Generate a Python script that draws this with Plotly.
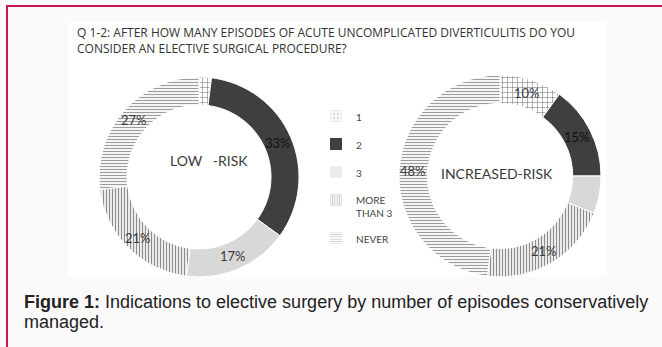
import math
import plotly.graph_objects as go

W, H = 662, 347

# Survey answers (share of respondents, %)
categories = ["1", "2", "3", "MORE THAN 3", "NEVER"]
legend_names = ["1", "2", "3", "MORE<br>THAN 3", "NEVER"]
low_risk = [2, 33, 17, 21, 27]
increased_risk = [10, 15, 6, 21, 48]

# Fill styles per answer
bg_colors = ["#ffffff", "#3f3f3f", "#ffffff", "#ffffff", "#ffffff"]
fg_colors = ["#7a7a7a", "#3f3f3f", "#a8a8a8", "#8c8c8c", "#9c9c9c"]
shapes_pat = ["+", "", ".", "|", "-"]
pat_size = [5, 4, 2, 3, 3]
pat_solid = [0.22, 0.3, 0.5, 0.45, 0.4]
text_colors = ["#3a3a3a", "#111111", "#3a3a3a", "#3a3a3a", "#3a3a3a"]

HOLE = 0.72
label_font = "Lato, Open Sans, sans-serif"


def px(x):
    return x / W


def py(y):
    return 1 - y / H


def pattern():
    return dict(shape=shapes_pat, fgcolor=fg_colors, bgcolor=bg_colors,
                size=pat_size, solidity=pat_solid)


def donut(values, cx, cy, r):
    return go.Pie(
        labels=categories,
        values=values,
        textinfo="none",
        hole=HOLE,
        sort=False,
        direction="clockwise",
        rotation=0,
        marker=dict(colors=bg_colors, pattern=pattern(),
                    line=dict(color="#ffffff", width=1)),
        domain=dict(x=[px(cx - r), px(cx + r)], y=[py(cy + r), py(cy - r)]),
        showlegend=False,
        hoverinfo="label+percent",
    )


def percent_labels(values, cx, cy, r):
    """Percent labels at the middle of each slice, on the ring."""
    total = sum(values)
    rr = r * (1 + HOLE) / 2
    out = []
    cum = 0
    for v, col in zip(values, text_colors):
        mid = (cum + v / 2) / total * 2 * math.pi
        cum += v
        if v < 10:
            continue
        out.append(dict(text=f"{v}%", x=px(cx + rr * math.sin(mid)),
                        y=py(cy - rr * math.cos(mid)),
                        xanchor="center", yanchor="middle",
                        font=dict(family=label_font, size=13, color=col)))
    return out


LEFT = (199, 177, 100)
RIGHT = (500, 176, 101)

fig = go.Figure()
fig.add_trace(donut(low_risk, *LEFT))
fig.add_trace(donut(increased_risk, *RIGHT))

# Legend entries (one group each so the rows can be spaced out)
for i, name in enumerate(legend_names):
    fig.add_trace(go.Bar(
        x=[None], y=[None], name=name, legendgroup=categories[i],
        marker=dict(color=bg_colors[i],
                    pattern=dict(shape=shapes_pat[i], fgcolor=fg_colors[i],
                                 bgcolor=bg_colors[i], size=pat_size[i],
                                 solidity=pat_solid[i]),
                    line=dict(width=0)),
        showlegend=True, hoverinfo="skip",
    ))

caption_font = "Liberation Sans Narrow, Liberation Sans, Arial, sans-serif"

annotations = [
    dict(text="Q 1-2: AFTER HOW MANY EPISODES OF ACUTE UNCOMPLICATED DIVERTICULITIS DO YOU<br>"
              "CONSIDER AN ELECTIVE SURGICAL PROCEDURE?",
         x=px(75), y=py(22), xanchor="left", yanchor="top", align="left",
         font=dict(family="Open Sans, sans-serif", size=12, color="#333333")),
    dict(text="LOW\u00a0\u00a0\u00a0-RISK", x=px(209), y=py(160),
         xanchor="center", yanchor="middle",
         font=dict(family=label_font, size=14, color="#3a3a3a")),
    dict(text="INCREASED-RISK", x=px(497), y=py(173),
         xanchor="center", yanchor="middle",
         font=dict(family=label_font, size=14, color="#3a3a3a")),
    dict(text="<b>Figure 1:</b> Indications to elective surgery by number of episodes conservatively",
         x=px(22), y=py(302), xanchor="left", yanchor="middle", align="left",
         font=dict(family=caption_font, size=18, color="#222222")),
    dict(text="managed.",
         x=px(22), y=py(322), xanchor="left", yanchor="middle", align="left",
         font=dict(family=caption_font, size=18, color="#222222")),
]
annotations += percent_labels(low_risk, *LEFT)
annotations += percent_labels(increased_risk, *RIGHT)
for a in annotations:
    a.update(xref="paper", yref="paper", showarrow=False)

shapes = [
    # white picture panel
    dict(type="rect", xref="paper", yref="paper", x0=px(68), x1=px(606),
         y0=py(277), y1=py(22), fillcolor="#ffffff", line=dict(width=0), layer="below"),
    # red frame (top and left)
    dict(type="line", xref="paper", yref="paper", x0=px(6), x1=1, y0=py(6), y1=py(6),
         line=dict(color="#c8174a", width=2)),
    dict(type="line", xref="paper", yref="paper", x0=px(7), x1=px(7), y0=0, y1=py(6),
         line=dict(color="#c8174a", width=2)),
]

fig.update_layout(
    width=W, height=H, autosize=False,
    margin=dict(l=0, r=0, t=0, b=0),
    paper_bgcolor="#fbf9fa", plot_bgcolor="rgba(0,0,0,0)",
    xaxis=dict(visible=False, domain=[0.45, 0.46]),
    yaxis=dict(visible=False, domain=[0.45, 0.46]),
    annotations=annotations,
    shapes=shapes,
    legend=dict(x=px(316), y=py(103), xanchor="left", yanchor="top",
                bgcolor="rgba(0,0,0,0)", borderwidth=0,
                font=dict(family=label_font, size=10, color="#444444"),
                tracegroupgap=9, valign="top", traceorder="grouped"),
    showlegend=True,
)

fig.write_html("out.html")
